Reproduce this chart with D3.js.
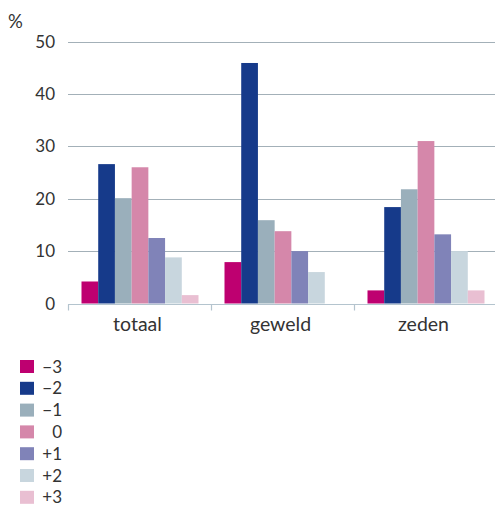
<!DOCTYPE html>
<html>
<head>
<meta charset="utf-8">
<script src="https://cdn.jsdelivr.net/npm/d3@7"></script>
<style>
  html, body { margin: 0; padding: 0; background: #fff; }
  svg { display: block; }
  text { font-family: Lato, "Open Sans", sans-serif; fill: #333; }
</style>
</head>
<body>
<svg id="chart" width="495" height="508"></svg>
<script>
const categories = ["totaal", "geweld", "zeden"];
const seriesKeys = ["\u22123", "\u22122", "\u22121", "0", "+1", "+2", "+3"];
const legendLabels = ["\u22123", "\u22122", "\u22121", "0", "+1", "+2", "+3"];
const colors = ["#be0070", "#163a8a", "#9aafbb", "#d587aa", "#8083b8", "#c8d6de", "#e9bfd2"];
const valuesTotaal = [4.2, 26.6, 20.1, 26.0, 12.5, 8.8, 1.6];
const valuesGeweld = [7.9, 45.9, 15.9, 13.8, 10.0, 6.0, 0];
const valuesZeden  = [2.5, 18.4, 21.8, 31.0, 13.2, 10.0, 2.5];
const yTicks = [0, 10, 20, 30, 40, 50];

const data = [valuesTotaal, valuesGeweld, valuesZeden];

const svg = d3.select("#chart");

const x0 = d3.scaleBand().domain(categories).range([68, 497]).padding(0);
const x1 = d3.scaleBand().domain(seriesKeys).range([13.5, 130.5]).padding(0);
const y = d3.scaleLinear().domain([0, 50]).range([303.5, 41.5]);

// gridlines
svg.append("g")
  .selectAll("line")
  .data(yTicks.filter(d => d > 0))
  .join("line")
  .attr("x1", 68).attr("x2", 495)
  .attr("y1", d => Math.round(y(d)) + 0.5)
  .attr("y2", d => Math.round(y(d)) + 0.5)
  .attr("stroke", "#a3b0b8")
  .attr("stroke-width", 1.2);

// y labels
svg.append("g")
  .selectAll("text")
  .data(yTicks)
  .join("text")
  .attr("x", 55)
  .attr("y", d => y(d))
  .attr("dy", "0.36em")
  .attr("text-anchor", "end")
  .attr("font-size", 17)
  .text(d => d);

svg.append("text")
  .attr("x", 8).attr("y", 28)
  .attr("font-size", 18.5)
  .text("%");

// bars
const groups = svg.append("g")
  .selectAll("g")
  .data(categories)
  .join("g")
  .attr("transform", d => `translate(${x0(d)},0)`);

groups.selectAll("rect")
  .data((c, i) => seriesKeys.map((k, j) => ({ key: k, value: data[i][j], color: colors[j] })))
  .join("rect")
  .attr("x", d => x1(d.key))
  .attr("width", x1.bandwidth())
  .attr("y", d => y(d.value))
  .attr("height", d => y(0) - y(d.value))
  .attr("fill", d => d.color);

// x axis
const xAxis = svg.append("g").attr("transform", `translate(0,${Math.round(y(0)) + 0.5})`);
xAxis.append("line")
  .attr("x1", 68).attr("x2", 495)
  .attr("stroke", "#b4c4ce").attr("stroke-width", 1.2);
xAxis.selectAll("line.sep")
  .data(categories)
  .join("line")
  .attr("class", "sep")
  .attr("x1", d => Math.round(x0(d)) + 0.5)
  .attr("x2", d => Math.round(x0(d)) + 0.5)
  .attr("y1", 0).attr("y2", 6)
  .attr("stroke", "#b4c4ce").attr("stroke-width", 1.2);
xAxis.selectAll("text")
  .data(categories)
  .join("text")
  .attr("x", d => x0(d) + x0.bandwidth() / 2 - 2)
  .attr("y", 26)
  .attr("text-anchor", "middle")
  .attr("font-size", 19.5)
  .text(d => d);

// legend
const legend = svg.append("g")
  .selectAll("g")
  .data(legendLabels)
  .join("g")
  .attr("transform", (d, i) => `translate(20,${360 + i * 21.8})`);
legend.append("rect")
  .attr("width", 14).attr("height", 13)
  .attr("fill", (d, i) => colors[i]);
legend.append("text")
  .attr("x", 42).attr("y", 6.5)
  .attr("dy", "0.36em")
  .attr("text-anchor", "end")
  .attr("font-size", 17)
  .text(d => d);
</script>
</body>
</html>
